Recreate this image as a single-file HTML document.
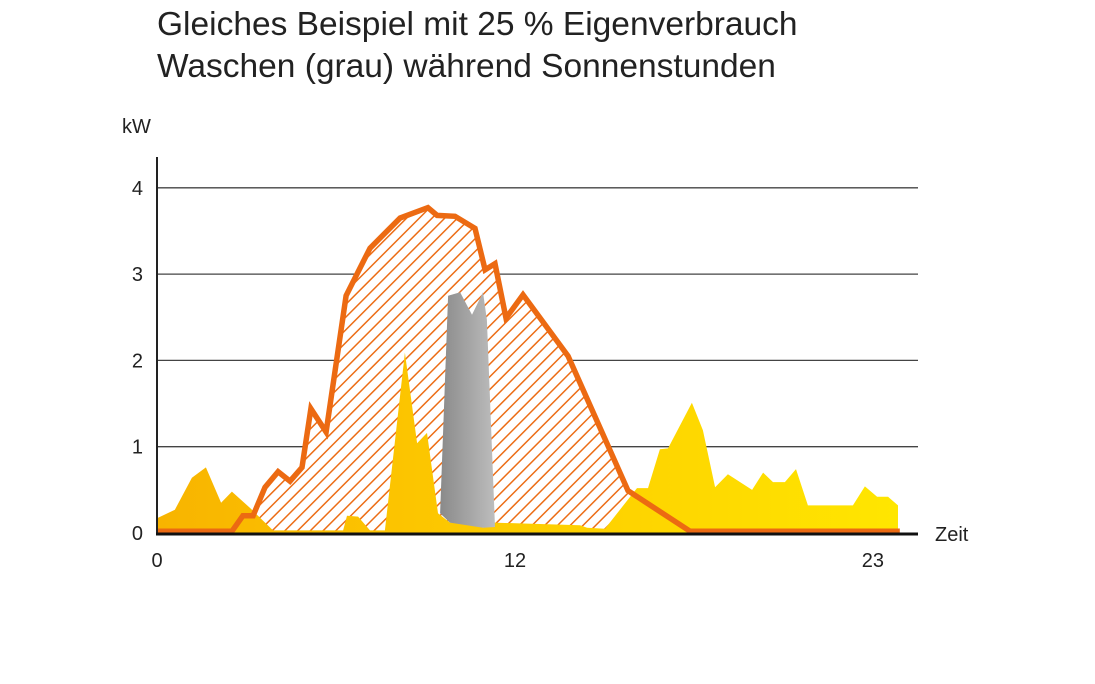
<!DOCTYPE html>
<html><head><meta charset="utf-8"><style>
body{margin:0;background:#fff;width:1095px;height:684px;overflow:hidden;font-family:"Liberation Sans",sans-serif}
.t{position:absolute;left:157px;font-size:33.5px;color:#222;white-space:nowrap}
</style></head><body>
<div class="t" style="top:6px">Gleiches Beispiel mit 25 % Eigenverbrauch</div>
<div class="t" style="top:48px">Waschen (grau) während Sonnenstunden</div>
<svg id="c" width="1095" height="684" style="position:absolute;left:0;top:0">
<defs>
<pattern id="hatch" width="9" height="9" patternUnits="userSpaceOnUse" patternTransform="rotate(45)">
<rect width="9" height="9" fill="#fff"/><line x1="0" y1="0" x2="0" y2="9" stroke="#ec6d16" stroke-width="3"/>
</pattern>
<linearGradient id="yg" x1="0" x2="1"><stop offset="0" stop-color="#f8b400"/><stop offset="0.4" stop-color="#fdc800"/><stop offset="1" stop-color="#ffe600"/></linearGradient>
<linearGradient id="gg" x1="0" x2="1"><stop offset="0" stop-color="#8a8a8a"/><stop offset="1" stop-color="#bdbdbd"/></linearGradient>
</defs>
</svg>
<script>
const yTicks=[0,1,2,3,4];
const xTickVals=[0,12,24];
const xTickLabels=["0","12","23"];
const pvHours=[0,2.51,2.88,3.22,3.62,4.06,4.46,4.86,5.16,5.67,6.34,7.14,8.15,9.08,9.39,9.99,10.66,11.0,11.33,11.7,12.27,13.78,15.79,17.87,24.9];
const pvKW=[0.02,0.02,0.2,0.2,0.53,0.71,0.6,0.76,1.44,1.17,2.75,3.3,3.65,3.77,3.68,3.67,3.53,3.05,3.12,2.49,2.76,2.05,0.49,0.02,0.02];
const useHours=[0,0.6,1.17,1.64,2.15,2.51,3.12,3.89,6.24,6.37,6.74,7.14,7.64,8.31,8.72,9.05,9.42,9.82,10.59,10.93,11.26,14.18,14.42,15.02,16.09,16.46,16.86,17.13,17.93,18.3,18.71,19.14,19.95,20.32,20.65,21.05,21.42,21.82,23.33,23.73,24.14,24.51,24.84];
const useKW=[0.17,0.27,0.64,0.76,0.35,0.48,0.29,0.03,0.03,0.2,0.19,0.03,0.03,2.09,1.04,1.16,0.23,0.12,0.12,0.06,0.12,0.09,0.06,0.05,0.52,0.52,0.97,0.98,1.51,1.19,0.53,0.68,0.5,0.7,0.59,0.59,0.74,0.32,0.32,0.54,0.42,0.42,0.32];
const washHours=[9.49,9.76,10.16,10.56,10.93,11.06,11.33,10.93,9.82];
const washKW=[0.23,2.75,2.79,2.53,2.79,2.47,0.07,0.06,0.12];
const X=h=>157+h*29.83, Y=v=>533-v*86.3;
const svg=document.getElementById('c'),NS='http://www.w3.org/2000/svg';
function mk(t,a){const e=document.createElementNS(NS,t);for(const k in a)e.setAttribute(k,a[k]);svg.appendChild(e);return e;}
const pts=(hs,vs)=>hs.map((h,i)=>X(h).toFixed(1)+','+Y(vs[i]).toFixed(1)).join(' ');
yTicks.forEach(v=>{if(v>0){const l=mk('line',{x1:157,x2:918,y1:Y(v),y2:Y(v),stroke:'#444','stroke-width':1.3});

}
const t=mk('text',{x:143,y:Y(v)+7,'text-anchor':'end','font-size':20,fill:'#222'});t.textContent=v;

});
const pv=mk('polygon',{points:X(0)+','+Y(0)+' '+pts(pvHours,pvKW)+' '+X(pvHours[pvHours.length-1])+','+Y(0),fill:'url(#hatch)'});


const us=mk('polygon',{points:X(0)+','+Y(0)+' '+pts(useHours,useKW)+' '+X(useHours[useHours.length-1])+','+Y(0),fill:'url(#yg)'});


const wa=mk('polygon',{points:pts(washHours,washKW),fill:'url(#gg)'});


const pl=mk('polyline',{points:pts(pvHours,pvKW),fill:'none',stroke:'#ec6a12','stroke-width':5.5,'stroke-linejoin':'miter'});


const ya=mk('line',{x1:157,x2:157,y1:157,y2:535,stroke:'#222','stroke-width':2});


const xa=mk('line',{x1:156,x2:918,y1:534,y2:534,stroke:'#111','stroke-width':3});


xTickVals.forEach((h,i)=>{const t=mk('text',{x:X(h),y:567,'text-anchor':'middle','font-size':20,fill:'#222'});t.textContent=xTickLabels[i];

});
const ku=mk('text',{x:122,y:133,'font-size':20,fill:'#222'});ku.textContent='kW';


const ze=mk('text',{x:935,y:541,'font-size':20,fill:'#222'});ze.textContent='Zeit';


</script>
</body></html>
